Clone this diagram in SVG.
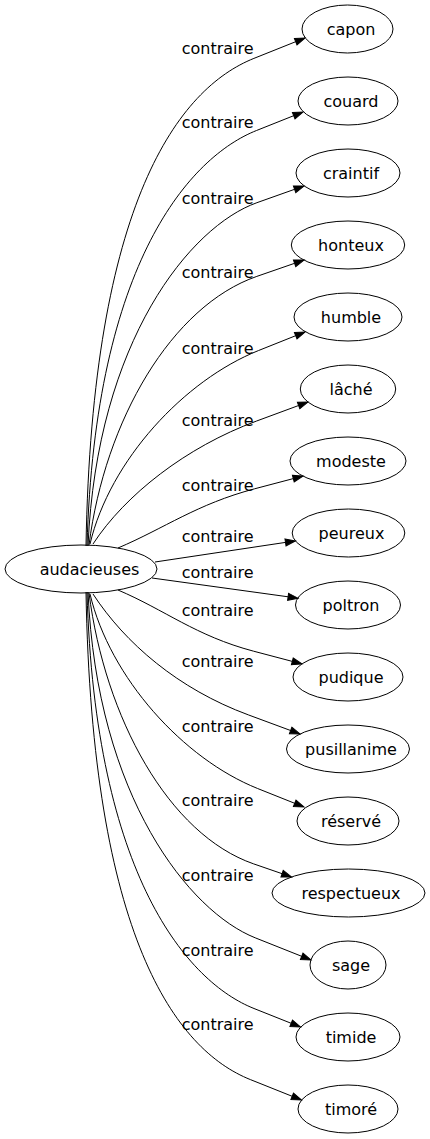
<svg xmlns="http://www.w3.org/2000/svg" width="430" height="1139" viewBox="0 0 430 1139">
<style>
.n ellipse{fill:none;stroke:#000;stroke-width:1}
.n text,.lbl text{font-family:"DejaVu Sans",sans-serif;font-size:16px;fill:#000}
.n text{text-anchor:middle}
#edges path{fill:none;stroke:#000;stroke-width:1;marker-end:url(#ah)}
</style>
<defs>
<marker id="ah" markerUnits="userSpaceOnUse" markerWidth="10" markerHeight="7" refX="0" refY="3.5" orient="auto" overflow="visible">
<path d="M0,0 L10,3.5 L0,7 z" fill="#000" stroke="#000" stroke-width="1"/>
</marker>
</defs>
<rect width="430" height="1139" fill="#fff"/>
<g id="edges">
<path d="M86,546 C92,200 179.7,88.1 253.9,58.4 L295.7,41.7"/>
<path d="M87,546 C95,260 191.4,156.4 256.5,130.5 L293.7,115.7"/>
<path d="M88,546 C97,340 190.9,226.1 256.9,202.7 L294.6,189.3"/>
<path d="M89,545 C105,420 171.8,305.9 256.8,276.4 L294.6,263.3"/>
<path d="M90,544 C110,460 184.4,380.2 258.6,350.5 L295.7,335.7"/>
<path d="M93,544 C125,495 186,447.1 256.4,421.1 L298.6,405.5"/>
<path d="M118,548 C165,528 196.6,504.2 254.6,488.8 L293.3,478.6"/>
<path d="M155,562 L285.5,542.4"/>
<path d="M152,578 L288.1,596.8"/>
<path d="M118,590 C165,610 195.6,635.8 253.6,651.2 L292.3,661.4"/>
<path d="M93,594 C125,643 178,688.9 248.4,714.9 L290.6,730.5"/>
<path d="M90,594 C110,678 183.4,758.8 257.6,788.5 L294.7,803.3"/>
<path d="M89,593 C105,718 168.6,834.4 253.7,863.9 L282.1,873.7"/>
<path d="M88,592 C97,798 190.1,911.9 255.2,937.8 L301.7,956.3"/>
<path d="M87,592 C95,878 188.9,982.6 254,1008.5 L291.2,1023.3"/>
<path d="M86,592 C92,938 176.2,1049.9 250.4,1079.6 L292.2,1096.3"/>
</g>
<g class="lbl">
<text x="181.7" y="54">contraire</text>
<text x="181.7" y="128">contraire</text>
<text x="181.7" y="204">contraire</text>
<text x="181.7" y="278">contraire</text>
<text x="181.7" y="354">contraire</text>
<text x="181.7" y="426">contraire</text>
<text x="181.7" y="491">contraire</text>
<text x="181.7" y="542">contraire</text>
<text x="181.7" y="578">contraire</text>
<text x="181.7" y="616">contraire</text>
<text x="181.7" y="667">contraire</text>
<text x="181.7" y="732">contraire</text>
<text x="181.7" y="806">contraire</text>
<text x="181.7" y="881">contraire</text>
<text x="181.7" y="956">contraire</text>
<text x="181.7" y="1030">contraire</text>
</g>
<g id="n0" class="n"><ellipse cx="81" cy="569" rx="76" ry="24"/><text x="89.5" y="574.5">audacieuses</text></g>
<g id="n1" class="n"><ellipse cx="347.5" cy="29" rx="45.5" ry="24"/><text x="351" y="34.5">capon</text></g>
<g id="n2" class="n"><ellipse cx="348" cy="101" rx="50" ry="24"/><text x="351" y="106.5">couard</text></g>
<g id="n3" class="n"><ellipse cx="348" cy="173" rx="52" ry="24"/><text x="351" y="178.5">craintif</text></g>
<g id="n4" class="n"><ellipse cx="348" cy="245" rx="56.7" ry="24"/><text x="351" y="250.5">honteux</text></g>
<g id="n5" class="n"><ellipse cx="348" cy="317" rx="54" ry="24"/><text x="351" y="322.5">humble</text></g>
<g id="n6" class="n"><ellipse cx="348" cy="389" rx="47.7" ry="24"/><text x="351" y="394.5">lâché</text></g>
<g id="n7" class="n"><ellipse cx="348" cy="461" rx="58" ry="24"/><text x="351" y="466.5">modeste</text></g>
<g id="n8" class="n"><ellipse cx="348.5" cy="533" rx="56.3" ry="24"/><text x="351.5" y="538.5">peureux</text></g>
<g id="n9" class="n"><ellipse cx="348" cy="605" rx="52.5" ry="24"/><text x="351" y="610.5">poltron</text></g>
<g id="n10" class="n"><ellipse cx="348" cy="677" rx="55" ry="24"/><text x="351" y="682.5">pudique</text></g>
<g id="n11" class="n"><ellipse cx="348" cy="749" rx="61.5" ry="24"/><text x="351" y="754.5">pusillanime</text></g>
<g id="n12" class="n"><ellipse cx="348" cy="821" rx="51" ry="24"/><text x="351" y="826.5">réservé</text></g>
<g id="n13" class="n"><ellipse cx="348.5" cy="893" rx="76.5" ry="24"/><text x="351" y="898.5">respectueux</text></g>
<g id="n14" class="n"><ellipse cx="348" cy="965" rx="38" ry="24"/><text x="351" y="970.5">sage</text></g>
<g id="n15" class="n"><ellipse cx="348" cy="1037" rx="52" ry="24"/><text x="351" y="1042.5">timide</text></g>
<g id="n16" class="n"><ellipse cx="348" cy="1109" rx="50" ry="24"/><text x="351" y="1114.5">timoré</text></g>
</svg>
